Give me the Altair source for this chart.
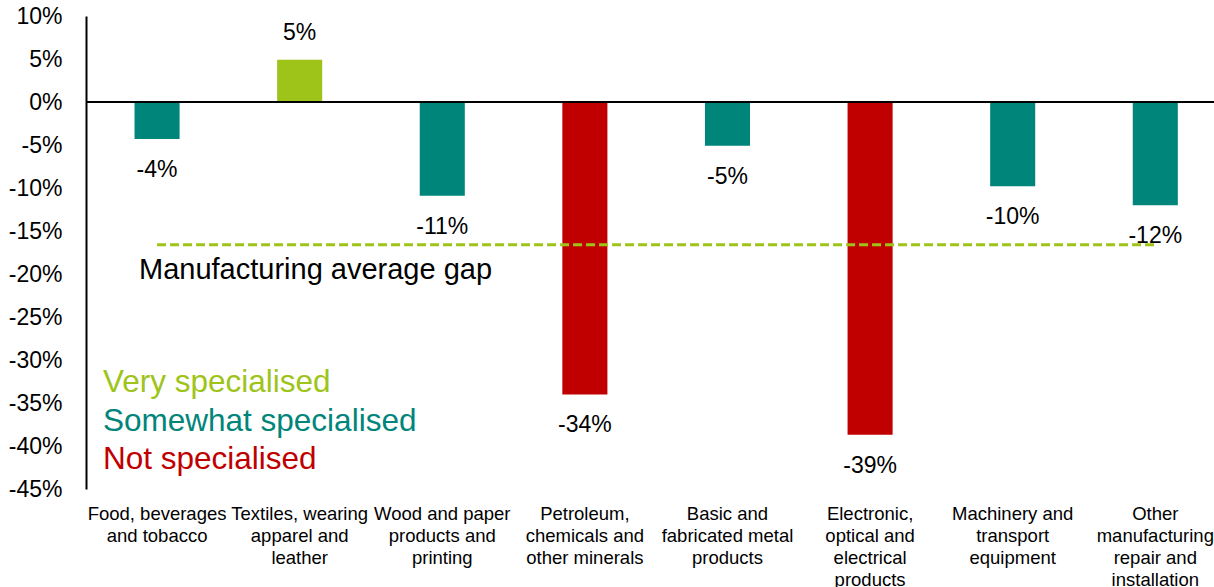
import altair as alt
import pandas as pd

categories = [
    "Food, beverages and tobacco",
    "Textiles, wearing apparel and leather",
    "Wood and paper products and printing",
    "Petroleum, chemicals and other minerals",
    "Basic and fabricated metal products",
    "Electronic, optical and electrical products",
    "Machinery and transport equipment",
    "Other manufacturing repair and installation",
]
label_lines = [
    "Food, beverages\nand tobacco",
    "Textiles, wearing\napparel and\nleather",
    "Wood and paper\nproducts and\nprinting",
    "Petroleum,\nchemicals and\nother minerals",
    "Basic and\nfabricated metal\nproducts",
    "Electronic,\noptical and\nelectrical\nproducts",
    "Machinery and\ntransport\nequipment",
    "Other\nmanufacturing\nrepair and\ninstallation",
]
values = [-4.3, 4.9, -10.9, -34.0, -5.1, -38.7, -9.8, -12.0]
groups = ["Somewhat", "Very", "Somewhat", "Not", "Somewhat", "Not", "Somewhat", "Somewhat"]
average_gap = -16.6
y_ticks = [10, 5, 0, -5, -10, -15, -20, -25, -30, -35, -40, -45]

group_names = ["Very", "Somewhat", "Not"]
group_colors = ["#9EC41A", "#00857A", "#C00000"]
legend_texts = ["Very specialised", "Somewhat specialised", "Not specialised"]

FONT = "Liberation Sans"

df = pd.DataFrame({"category": categories, "label": label_lines, "value": values, "group": groups})

x_scale = alt.Scale(domain=categories, paddingInner=0.684, paddingOuter=0.297, align=0.573)
y_scale = alt.Scale(domain=[-45, 10], nice=False, zero=False)

base = alt.Chart(df)

bars = base.mark_bar().encode(
    x=alt.X("category:N", scale=x_scale, axis=None, sort=categories),
    y=alt.Y(
        "value:Q",
        scale=y_scale,
        title=None,
        axis=alt.Axis(
            values=y_ticks,
            labelExpr="datum.value + '%'",
            grid=False,
            ticks=False,
            tickSize=0,
            labelPadding=24,
            labelFont=FONT,
            labelFontSize=23,
            labelColor="#000000",
            domainColor="#000000",
            domainWidth=2,
        ),
    ),
    y2=alt.datum(0),
    color=alt.Color("group:N", scale=alt.Scale(domain=group_names, range=group_colors), legend=None),
)

val_label = "round(datum.value) + '%'"

neg_labels = base.transform_filter("datum.value < 0").transform_calculate(txt=val_label).mark_text(
    font=FONT, fontSize=23, baseline="alphabetic", align="center", dy=38, color="#000000"
).encode(x=alt.X("category:N", scale=x_scale, sort=categories), y=alt.Y("value:Q", scale=y_scale), text="txt:N")

pos_labels = base.transform_filter("datum.value >= 0").transform_calculate(txt=val_label).mark_text(
    font=FONT, fontSize=23, baseline="alphabetic", align="center", dy=-20, color="#000000"
).encode(x=alt.X("category:N", scale=x_scale, sort=categories), y=alt.Y("value:Q", scale=y_scale), text="txt:N")

x_labels = base.mark_text(
    font=FONT, fontSize=18.5, baseline="alphabetic", align="center", lineBreak="\n", lineHeight=22, color="#000000"
).encode(x=alt.X("category:N", scale=x_scale, sort=categories), y=alt.value(504), text="label:N")

zero_line = alt.Chart(pd.DataFrame({"z": [0]})).mark_rule(color="#000000", strokeWidth=2).encode(
    y=alt.Y("z:Q", scale=y_scale)
)

avg_df = pd.DataFrame({"start": [categories[0]], "end": [categories[-1]], "avg": [average_gap]})
avg_line = alt.Chart(avg_df).mark_rule(color="#9EC41A", strokeWidth=2.8, strokeDash=[9, 4]).encode(
    x=alt.X("start:N", scale=x_scale, sort=categories),
    x2="end:N",
    y=alt.Y("avg:Q", scale=y_scale),
)
avg_text = alt.Chart(avg_df).mark_text(
    font=FONT, fontSize=29, align="left", baseline="alphabetic", dy=34, color="#000000"
).encode(x=alt.value(53), y=alt.Y("avg:Q", scale=y_scale), text=alt.value("Manufacturing average gap"))

legend_df = pd.DataFrame({"text": legend_texts, "group": group_names, "ypix": [376, 415, 453]})
legend = alt.Chart(legend_df).mark_text(font=FONT, fontSize=31.5, align="left", baseline="alphabetic").encode(
    x=alt.value(17),
    y=alt.Y("ypix:Q", scale=None),
    text="text:N",
    color=alt.Color("group:N", scale=alt.Scale(domain=group_names, range=group_colors), legend=None),
)

chart = (
    alt.layer(bars, zero_line, avg_line, neg_labels, pos_labels, x_labels, avg_text, legend)
    .properties(
        width=1128,
        height=473,
        autosize=alt.AutoSizeParams(type="none"),
        padding={"left": 86, "top": 16, "right": 0, "bottom": 98},
        background="#ffffff",
    )
    .configure_view(stroke=None)
)

chart.save("out.html", embed_options={"renderer": "svg", "actions": False})
